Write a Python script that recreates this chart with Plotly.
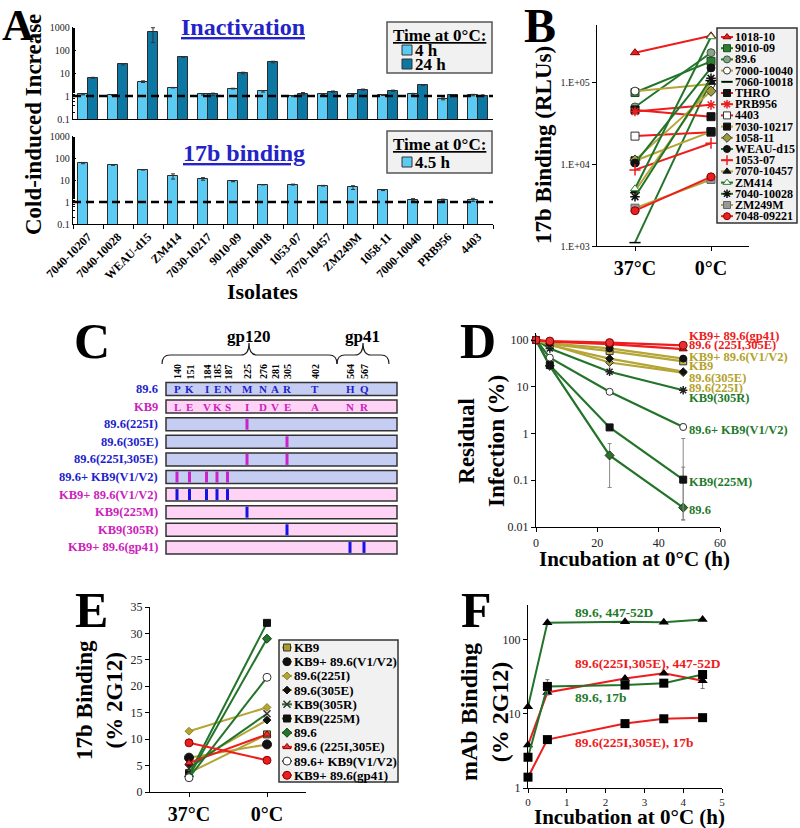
import plotly.graph_objects as go

W, H = 800, 828
SERIF = "Liberation Serif, Times New Roman, serif"

# ======================= DATA =======================
# Panel A
isolates = ["7040-10207", "7040-10028", "WEAU-d15", "ZM414", "7030-10217", "9010-09",
            "7060-10018", "1053-07", "7070-10457", "ZM249M", "1058-11", "7000-10040",
            "PRB956", "4403"]
inact_4h = [1.18, 1.1, 4.2, 2.3, 1.18, 2.1, 1.6, 0.97, 1.22, 1.18, 1.1, 1.25, 0.75, 1.1]
inact_4h_err = [0.06, 0.04, 0.35, 0.06, 0.08, 0.08, 0.12, 0.04, 0.05, 0.05, 0.05, 0.05, 0.07, 0.08]
inact_24h = [6.2, 24, 600, 50, 1.18, 10, 30, 1.26, 1.55, 1.9, 1.7, 3.0, 1.1, 1.05]
inact_24h_err_up = [0.3, 1.5, 330, 2, 0.15, 0.8, 2.5, 0.15, 0.1, 0.1, 0.1, 0.1, 0.06, 0.06]
inact_24h_err_dn = [0.3, 1.5, 390, 2, 0.15, 0.8, 2.5, 0.15, 0.1, 0.1, 0.1, 0.1, 0.06, 0.06]
bind_45h = [59, 48, 29, 15, 11.3, 8.6, 6.1, 6.2, 5.5, 4.6, 3.4, 1.27, 1.27, 1.27]
bind_45h_err = [4, 1.5, 0.5, 4, 1.5, 0.3, 0.1, 0.3, 0.2, 0.9, 0.1, 0.15, 0.08, 0.2]
ref_level = 1
a_titles = ["Inactivation", "17b binding"]
a_legend_top = ["4 h", "24 h"]
a_legend_bottom = ["4.5 h"]

# Panel B
b_conditions = ["37°C", "0°C"]
b_isolates = ["1018-10", "9010-09", "89.6", "7000-10040", "7060-10018", "THRO", "PRB956",
              "4403", "7030-10217", "1058-11", "WEAU-d15", "1053-07", "7070-10457",
              "ZM414", "7040-10028", "ZM249M", "7048-09221"]
b_37C = [2.3e5, 7.5e4, 5.0e4, 7.8e4, 1.1e3, 4.6e4, 4.4e4, 2.2e4, 1.1e4, 1.12e4,
         1.03e4, 8.5e3, 4.7e3, 5.0e3, 4.0e3, 2.9e3, 2.7e3]
b_0C = [3.7e5, 1.8e5, 2.3e5, 9.5e4, 1.05e5, 3.8e4, 5.3e4, 2.45e4, 2.5e4, 7.8e4,
        1.5e5, 1.8e4, 1.0e5, 3.6e5, 1.12e5, 6.5e3, 7.0e3]
b_group = ["red", "green", "green", "olive", "green", "red", "red", "red", "olive", "olive",
           "green", "red", "olive", "green", "green", "olive", "red"]

# Panel C
c_residues = [140, 151, 184, 185, 187, 225, 276, 281, 305, 402, 564, 567]
c_aa_896 = ["P", "K", "I", "E", "N", "M", "N", "A", "R", "T", "H", "Q"]
c_aa_kb9 = ["L", "E", "V", "K", "S", "I", "D", "V", "E", "A", "N", "R"]
c_rows = ["89.6", "KB9", "89.6(225I)", "89.6(305E)", "89.6(225I,305E)", "89.6+ KB9(V1/V2)",
          "KB9+ 89.6(V1/V2)", "KB9(225M)", "KB9(305R)", "KB9+ 89.6(gp41)"]
c_row_base = ["89.6", "KB9", "89.6", "89.6", "89.6", "89.6", "KB9", "KB9", "KB9", "KB9"]
c_row_sites = [[], [], [225], [305], [225, 305], [140, 151, 184, 185, 187],
               [140, 151, 184, 185, 187], [225], [305], [564, 567]]
c_domains = ["gp120", "gp41"]

# Panel D
d_time = [0, 4.5, 24, 48]
d_names = ["89.6", "KB9(225M)", "89.6+ KB9(V1/V2)", "KB9(305R)", "89.6(225I)", "89.6(305E)",
           "KB9", "KB9+ 89.6(V1/V2)", "89.6 (225I,305E)", "KB9+ 89.6(gp41)"]
d_values = [[100, 28, 0.34, 0.026],
            [100, 29, 1.35, 0.103],
            [100, 42, 7.8, 1.38],
            [100, 66, 21, 8.4],
            [100, 80, 33, 20],
            [100, 78, 40, 21],
            [100, 82, 58, 35],
            [100, 85, 66, 40],
            [100, 92, 82, 64],
            [100, 95, 88, 77]]
d_err_up = [[0, 0, 0.27, 0.165], [0, 0, 0, 0.68], [0, 0, 0, 0.25], [0, 0, 0, 0],
            [0, 0, 0, 0], [0, 0, 0, 0], [0, 0, 0, 0], [0, 0, 0, 0], [0, 0, 0, 0], [0, 0, 0, 0]]
d_err_dn = [[0, 0, 0.27, 0.0116], [0, 0, 0, 0.089], [0, 0, 0, 0.2], [0, 0, 0, 0],
            [0, 0, 0, 0], [0, 0, 0, 0], [0, 0, 0, 0], [0, 0, 0, 0], [0, 0, 0, 0], [0, 0, 0, 0]]
d_group = ["green", "green", "green", "green", "olive", "olive", "olive", "olive", "red", "red"]
d_label_order = ["KB9+ 89.6(gp41)", "89.6 (225I,305E)", "KB9+ 89.6(V1/V2)", "KB9",
                 "89.6(305E)", "89.6(225I)", "KB9(305R)", "89.6+ KB9(V1/V2)", "KB9(225M)", "89.6"]

# Panel E
e_conditions = ["37°C", "0°C"]
e_names = ["KB9", "KB9+ 89.6(V1/V2)", "89.6(225I)", "89.6(305E)", "KB9(305R)", "KB9(225M)",
           "89.6", "89.6 (225I,305E)", "89.6+ KB9(V1/V2)", "KB9+ 89.6(gp41)"]
e_37C = [3.6, 6.5, 11.5, 5.2, 4.5, 3.3, 3.0, 5.5, 2.7, 9.3]
e_0C = [10.9, 9.0, 16.0, 13.6, 14.8, 32.0, 29.0, 10.9, 21.7, 6.0]
e_group = ["olive", "olive", "olive", "olive", "green", "green", "green", "red", "green", "red"]

# Panel F
f_time = [0, 0.5, 2.5, 3.5, 4.5]
f_names = ["89.6, 447-52D", "89.6(225I,305E), 447-52D", "89.6, 17b", "89.6(225I,305E), 17b"]
f_values = [[12.5, 170, 175, 172, 188],
            [3.8, 19.5, 30, 35.5, 28],
            [2.6, 23.5, 24.5, 26, 34],
            [1.4, 4.5, 7.4, 8.6, 8.9]]
f_err = [[0, 0, 0, 0, 0], [0, 0, 0, 0, 6], [0, 5.5, 0, 0, 3], [0, 0, 0, 0, 0]]
f_group = ["green", "red", "green", "red"]
f_symbol = ["triangle-up", "triangle-up", "square", "square"]

# ======================= STYLE =======================
COL = {"red": "#EE1C1C", "green": "#23742A", "olive": "#B4A536"}
TXT = {"red": "#EE1C1C", "green": "#1F7A2C", "olive": "#B3A22A"}
LB, DB, EDGE = "#5CCBF3", "#0C77A3", "#2b2b2b"
BLUE_T, MAG_T = "#1E1ECC", "#CC22BB"
FILL_896, FILL_KB9 = "#C6CDF2", "#FFD3F6"
MARK_896, MARK_KB9 = "#1414E6", "#CC22CC"
LINE_SYMS = {"asterisk", "line-ew", "cross-thin", "x-thin"}

B_MARK = [("triangle-up", "#E82020", "#8B0000"), ("square", "#2E7D32", "#1B4D1B"),
          ("circle", "#8FA08F", "#2E5E2E"), ("circle", "white", "#333"),
          ("line-ew", "#000", "#000"), ("square", "#111", "#111"),
          ("asterisk", "#E82020", "#E82020"), ("square", "white", "#333"),
          ("square", "#111", "#111"), ("diamond", "#9C9A3A", "#333"),
          ("circle", "#111", "#111"), ("cross-thin", "#E82020", "#E82020"),
          ("triangle-up", "#111", "#111"), ("triangle-up", "white", "#2E7D32"),
          ("asterisk", "#111", "#111"), ("square", "#999", "#666"),
          ("circle", "#E82020", "#8B0000")]
D_MARK = {"89.6": ("diamond", "#2E6E2E", "#1B3D1B", 7),
          "KB9(225M)": ("square", "#111", "#111", 7),
          "89.6+ KB9(V1/V2)": ("circle", "white", "#333", 7),
          "KB9(305R)": ("asterisk", "#222", "#222", 7),
          "89.6(225I)": ("diamond", "#9C9A3A", "#333", 6),
          "89.6(305E)": ("diamond", "#111", "#111", 6),
          "KB9": ("square", "#C8B850", "#333", 7),
          "KB9+ 89.6(V1/V2)": ("circle", "#111", "#111", 7),
          "89.6 (225I,305E)": ("triangle-up", "#C82020", "#6B0000", 7),
          "KB9+ 89.6(gp41)": ("circle", "#E83030", "#8B0000", 8)}

fig = go.Figure()
annotations = []
shapes = []


def ann(x, y, text, size, color="black", bold=True, angle=0, xanchor="center",
        yanchor="middle", align="center"):
    annotations.append(dict(x=x, y=y, xref="x4", yref="y4", text=text, showarrow=False,
                            textangle=angle, xanchor=xanchor, yanchor=yanchor, align=align,
                            borderpad=0,
                            font=dict(family=SERIF, size=size, color=color,
                                      weight="bold" if bold else "normal")))


def dx(a, b):
    return [a / W, b / W]


def dy(top, bot):
    return [1 - bot / H, 1 - top / H]


def axis(**kw):
    d = dict(showline=True, linecolor="black", linewidth=1.3, showgrid=False, zeroline=False,
             ticks="outside", ticklen=4, tickcolor="black", fixedrange=True, automargin=False,
             tickfont=dict(family=SERIF, size=11, color="#222"))
    d.update(kw)
    return d


def legend_glyph(x, y, seg, color, sym, fill, edge, size):
    fig.add_trace(go.Scatter(x=[x, x + seg], y=[y, y], mode="lines",
                             line=dict(color=color, width=2), xaxis="x4", yaxis="y4",
                             showlegend=False, hoverinfo="skip"))
    lw = 1.5 if sym in LINE_SYMS else 1
    fig.add_trace(go.Scatter(x=[x + seg / 2], y=[y], mode="markers",
                             marker=dict(symbol=sym, size=size, color=fill,
                                         line=dict(color=edge, width=lw)),
                             xaxis="x4", yaxis="y4", showlegend=False, hoverinfo="skip"))


# ======================= PANEL A =======================
xi = list(range(len(isolates)))
fig.add_trace(go.Bar(x=xi, y=inact_4h, width=0.333, offset=-0.333,
                     marker=dict(color=LB, line=dict(color=EDGE, width=1)),
                     error_y=dict(type="data", array=inact_4h_err, color="#333", thickness=1, width=2),
                     xaxis="x", yaxis="y", showlegend=False))
fig.add_trace(go.Bar(x=xi, y=inact_24h, width=0.333, offset=0,
                     marker=dict(color=DB, line=dict(color=EDGE, width=1)),
                     error_y=dict(type="data", array=inact_24h_err_up, arrayminus=inact_24h_err_dn,
                                  color="#333", thickness=1, width=2),
                     xaxis="x", yaxis="y", showlegend=False))
fig.add_trace(go.Bar(x=xi, y=bind_45h, width=0.333, offset=-0.333,
                     marker=dict(color=LB, line=dict(color=EDGE, width=1)),
                     error_y=dict(type="data", array=bind_45h_err, color="#333", thickness=1, width=2),
                     xaxis="x2", yaxis="y2", showlegend=False))
for xa, ya in (("x", "y"), ("x2", "y2")):
    fig.add_trace(go.Scatter(x=[-0.5, len(isolates) - 0.5], y=[ref_level, ref_level], mode="lines",
                             line=dict(color="black", width=2.5, dash="8px,5px"),
                             xaxis=xa, yaxis=ya, showlegend=False, hoverinfo="skip"))

log_ticks = [0.1, 1, 10, 100, 1000]
log_text = ["0.1", "1", "10", "100", "1000"]
layout_axes = {}
layout_axes["xaxis"] = axis(domain=dx(73, 493), range=[-0.5, len(isolates) - 0.5],
                            showticklabels=False, ticks="", anchor="y")
layout_axes["yaxis"] = axis(domain=dy(27, 119), type="log", range=[-1, 3], tickvals=log_ticks,
                            ticktext=log_text, ticks="inside", ticklen=3, anchor="x",
                            tickfont=dict(family=SERIF, size=10, color="#222"),
                            minor=dict(ticks="inside", ticklen=2, tickcolor="black"))
layout_axes["xaxis2"] = axis(domain=dx(73, 493), range=[-0.5, len(isolates) - 0.5],
                             tickvals=xi, ticktext=isolates, tickangle=-45, ticks="", anchor="y2",
                             tickfont=dict(family=SERIF, size=12, color="black", weight="bold"),
                             minor=dict(ticks="outside", tick0=-0.5, dtick=1, ticklen=4, tickcolor="black"))
layout_axes["yaxis2"] = axis(domain=dy(136, 224), type="log", range=[-1, 3], tickvals=log_ticks,
                             ticktext=log_text, ticks="inside", ticklen=3, anchor="x2",
                             tickfont=dict(family=SERIF, size=10, color="#222"),
                             minor=dict(ticks="inside", ticklen=2, tickcolor="black"))

ann(18, 25, "A", 44)
ann(243, 27, "<u>" + a_titles[0] + "</u>", 24, color="#2323C8")
ann(244, 153, "<u>" + a_titles[1] + "</u>", 24, color="#2323C8")
ann(33, 125, "Cold-induced Increase", 23, angle=-90)
ann(262, 291, "Isolates", 22)

# A legends
for (y0, y1) in ((22, 73), (131, 173)):
    shapes.append(dict(type="rect", xref="x4", yref="y4", x0=387, x1=492, y0=y0, y1=y1,
                       fillcolor="#F1F1F1", line=dict(color="#555", width=1.5), layer="below"))
ann(439, 35, "<u>Time at 0°C:</u>", 17)
ann(439, 144, "<u>Time at 0°C:</u>", 17)
for k, (lab, col) in enumerate(zip(a_legend_top, [LB, DB])):
    yy = 50 + 14 * k
    fig.add_trace(go.Scatter(x=[407], y=[yy], mode="markers",
                             marker=dict(symbol="square", size=10, color=col, line=dict(color="#333", width=1)),
                             xaxis="x4", yaxis="y4", showlegend=False, hoverinfo="skip"))
    ann(414, yy, lab, 17, xanchor="left")
for k, lab in enumerate(a_legend_bottom):
    yy = 162
    fig.add_trace(go.Scatter(x=[407], y=[yy], mode="markers",
                             marker=dict(symbol="square", size=10, color=LB, line=dict(color="#333", width=1)),
                             xaxis="x4", yaxis="y4", showlegend=False, hoverinfo="skip"))
    ann(414, yy, lab, 17, xanchor="left")

# ======================= PANEL B =======================
for i, name in enumerate(b_isolates):
    sym, fill, edge = B_MARK[i]
    lw = 1.5 if sym in LINE_SYMS else 1
    fig.add_trace(go.Scatter(x=b_conditions, y=[b_37C[i], b_0C[i]], mode="lines+markers",
                             line=dict(color=COL[b_group[i]], width=2),
                             marker=dict(symbol=sym, size=8, color=fill, line=dict(color=edge, width=lw)),
                             xaxis="x3", yaxis="y3", showlegend=False, cliponaxis=False, name=name))
layout_axes["xaxis3"] = axis(domain=dx(597, 749), type="category", range=[-0.5, 1.5], anchor="y3",
                             tickfont=dict(family=SERIF, size=20, color="black", weight="bold"))
layout_axes["yaxis3"] = axis(domain=dy(25, 246), type="log", range=[3, 5.7], anchor="x3",
                             tickvals=[1e3, 1e4, 1e5], ticktext=["1.E+03", "1.E+04", "1.E+05"],
                             tickfont=dict(family=SERIF, size=10, color="#222"))
ann(540, 25, "B", 48)
ann(543, 145, "17b Binding (RLUs)", 23, angle=-90)
shapes.append(dict(type="rect", xref="x4", yref="y4", x0=717, x1=797, y0=28, y1=223,
                   fillcolor="#F1F1F1", line=dict(color="#333", width=1.5), layer="below"))
for i, name in enumerate(b_isolates):
    yy = 37 + i * 11.2
    sym, fill, edge = B_MARK[i]
    legend_glyph(721, yy, 12, COL[b_group[i]], sym, fill, edge, 7)
    ann(734, yy, name, 12, xanchor="left")

# ======================= PANEL C =======================
C_COL = {140: 177, 151: 189.5, 184: 206.5, 185: 217, 187: 227.5, 225: 247, 276: 263,
         281: 275, 305: 287, 402: 315, 564: 350, 567: 364}
C_X0, C_X1, C_Y0, C_DY, C_H = 166, 397, 389, 17.6, 13
ann(92, 341, "C", 50)
for r, (lab, base, sites) in enumerate(zip(c_rows, c_row_base, c_row_sites)):
    yc = C_Y0 + r * C_DY
    is896 = base == "89.6"
    shapes.append(dict(type="rect", xref="x4", yref="y4", x0=C_X0, x1=C_X1,
                       y0=yc - C_H / 2, y1=yc + C_H / 2,
                       fillcolor=FILL_896 if is896 else FILL_KB9, line=dict(color="#333", width=1.5)))
    for s in sites:
        shapes.append(dict(type="rect", xref="x4", yref="y4", x0=C_COL[s] - 1.5, x1=C_COL[s] + 1.5,
                           y0=yc - C_H / 2 + 1, y1=yc + C_H / 2 - 1,
                           fillcolor=MARK_KB9 if is896 else MARK_896, line=dict(width=0)))
    ann(159, yc, lab, 12.5, color=BLUE_T if is896 else MAG_T, xanchor="right")
for res, a896, akb9 in zip(c_residues, c_aa_896, c_aa_kb9):
    ann(C_COL[res], 372, str(res), 10, angle=-90)
    ann(C_COL[res], C_Y0, a896, 11, color=BLUE_T)
    ann(C_COL[res], C_Y0 + C_DY, akb9, 11, color=MAG_T)


def brace(x0, x1, xp, ytop=343, ymid=355, yend=364, r=8):
    return (f"M{x0},{yend} Q{x0},{ymid} {x0 + r},{ymid} L{xp - r},{ymid} Q{xp},{ymid} {xp},{ytop} "
            f"Q{xp},{ymid} {xp + r},{ymid} L{x1 - r},{ymid} Q{x1},{ymid} {x1},{yend}")


for (x0, x1, xp), dom in zip(((162, 337, 249), (337, 389, 363)), c_domains):
    shapes.append(dict(type="path", xref="x4", yref="y4", path=brace(x0, x1, xp),
                       line=dict(color="#222", width=1.2)))
    ann(xp - 1, 336, dom, 17)

# ======================= PANEL D =======================
for i, name in enumerate(d_names):
    sym, fill, edge, sz = D_MARK[name]
    lw = 1.5 if sym in LINE_SYMS else 1
    fig.add_trace(go.Scatter(x=d_time, y=d_values[i], mode="lines+markers",
                             line=dict(color=COL[d_group[i]], width=2.2),
                             marker=dict(symbol=sym, size=sz, color=fill, line=dict(color=edge, width=lw)),
                             error_y=dict(type="data", array=d_err_up[i], arrayminus=d_err_dn[i],
                                          color="#888", thickness=1, width=2),
                             xaxis="x5", yaxis="y5", showlegend=False, cliponaxis=False, name=name))
layout_axes["xaxis5"] = axis(domain=dx(536, 720), range=[0, 60], tickvals=[0, 20, 40, 60], anchor="y5",
                             tickfont=dict(family=SERIF, size=12, color="#222"))
layout_axes["yaxis5"] = axis(domain=dy(333, 527), type="log", range=[-2, 2.15], anchor="x5",
                             tickvals=[0.01, 0.1, 1, 10, 100], ticktext=["0.01", "0.1", "1", "10", "100"],
                             tickfont=dict(family=SERIF, size=12, color="#222"))
ann(478, 341, "D", 50)
ann(481, 441, "Residual<br>Infection (%)", 23, angle=-90)
ann(634, 559, "Incubation at 0°C (h)", 21)
d_label_y = [336, 345, 357, 366, 378, 388, 398, 430, 482, 510]
for name, yy in zip(d_label_order, d_label_y):
    g = d_group[d_names.index(name)]
    ann(688, yy, name, 12.5, color=TXT[g], xanchor="left")

# ======================= PANEL E =======================
E_MARK = {"KB9": ("square", "#A89A30", "#333", 7), "KB9+ 89.6(V1/V2)": ("circle", "#111", "#111", 9),
          "89.6(225I)": ("diamond", "#B4A536", "#8A7F20", 6), "89.6(305E)": ("diamond", "#111", "#111", 6),
          "KB9(305R)": ("x-thin", "#333", "#333", 7), "KB9(225M)": ("square", "#111", "#111", 7),
          "89.6": ("diamond", "#23742A", "#123D16", 7),
          "89.6 (225I,305E)": ("triangle-up", "#E83030", "#8B0000", 7),
          "89.6+ KB9(V1/V2)": ("circle", "white", "#333", 8),
          "KB9+ 89.6(gp41)": ("circle", "#E82020", "#8B0000", 8)}
for i, name in enumerate(e_names):
    sym, fill, edge, sz = E_MARK[name]
    lw = 1.5 if sym in LINE_SYMS else 1
    fig.add_trace(go.Scatter(x=e_conditions, y=[e_37C[i], e_0C[i]], mode="lines+markers",
                             line=dict(color=COL[e_group[i]], width=2),
                             marker=dict(symbol=sym, size=sz, color=fill, line=dict(color=edge, width=lw)),
                             xaxis="x6", yaxis="y6", showlegend=False, cliponaxis=False, name=name))
layout_axes["xaxis6"] = axis(domain=dx(150, 306), type="category", range=[-0.5, 1.5], anchor="y6",
                             tickfont=dict(family=SERIF, size=20, color="black", weight="bold"))
layout_axes["yaxis6"] = axis(domain=dy(607, 792), range=[0, 35], dtick=5, anchor="x6",
                             tickfont=dict(family=SERIF, size=12, color="#222"))
ann(91, 610, "E", 50)
ann(99, 700, "17b Binding<br>(% 2G12)", 23, angle=-90)
shapes.append(dict(type="rect", xref="x4", yref="y4", x0=279, x1=398, y0=640, y1=782,
                   fillcolor="#F1F1F1", line=dict(color="#333", width=1.5), layer="below"))
for i, name in enumerate(e_names):
    yy = 647.5 + i * 14.2
    sym, fill, edge, sz = E_MARK[name]
    legend_glyph(282, yy, 10, COL[e_group[i]], sym, fill, edge, min(sz, 8))
    ann(293, yy, name, 13, xanchor="left")

# ======================= PANEL F =======================
for i, name in enumerate(f_names):
    fig.add_trace(go.Scatter(x=f_time, y=f_values[i], mode="lines+markers",
                             line=dict(color=COL[f_group[i]], width=2),
                             marker=dict(symbol=f_symbol[i], size=9, color="black"),
                             error_y=dict(type="data", array=f_err[i], color="#777", thickness=1, width=2),
                             xaxis="x7", yaxis="y7", showlegend=False, cliponaxis=False, name=name))
layout_axes["xaxis7"] = axis(domain=dx(528, 722), range=[0, 5], dtick=1, anchor="y7",
                             tickfont=dict(family=SERIF, size=11, color="#222"))
layout_axes["yaxis7"] = axis(domain=dy(605, 788), type="log", range=[0, 2.47], anchor="x7",
                             tickvals=[1, 10, 100], ticktext=["1", "10", "100"],
                             tickfont=dict(family=SERIF, size=12, color="#222"))
ann(476, 610, "F", 50)
ann(484, 712, "mAb Binding<br>(% 2G12)", 24, angle=-90)
ann(629, 817, "Incubation at 0°C (h)", 21)
for name, yy, g in zip(f_names, [612, 663, 697, 742], f_group):
    ann(574, yy, name, 13.5, color=TXT[g], xanchor="left")

# overlay pixel axes for legends / schematic / labels
layout_axes["xaxis4"] = dict(domain=[0, 1], range=[0, W], visible=False, fixedrange=True,
                             anchor="y4", automargin=False)
layout_axes["yaxis4"] = dict(domain=[0, 1], range=[H, 0], visible=False, fixedrange=True,
                             anchor="x4", automargin=False)

fig.update_layout(template="none", width=W, height=H, autosize=False,
                  margin=dict(l=0, r=0, t=0, b=0, pad=0),
                  font=dict(family=SERIF, color="black"),
                  paper_bgcolor="white", plot_bgcolor="rgba(0,0,0,0)", showlegend=False,
                  bargap=0, annotations=annotations, shapes=shapes, **layout_axes)
fig.write_html("out.html", config={"displayModeBar": False},
               post_script="document.body.style.margin='0';document.body.style.overflow='hidden';")
